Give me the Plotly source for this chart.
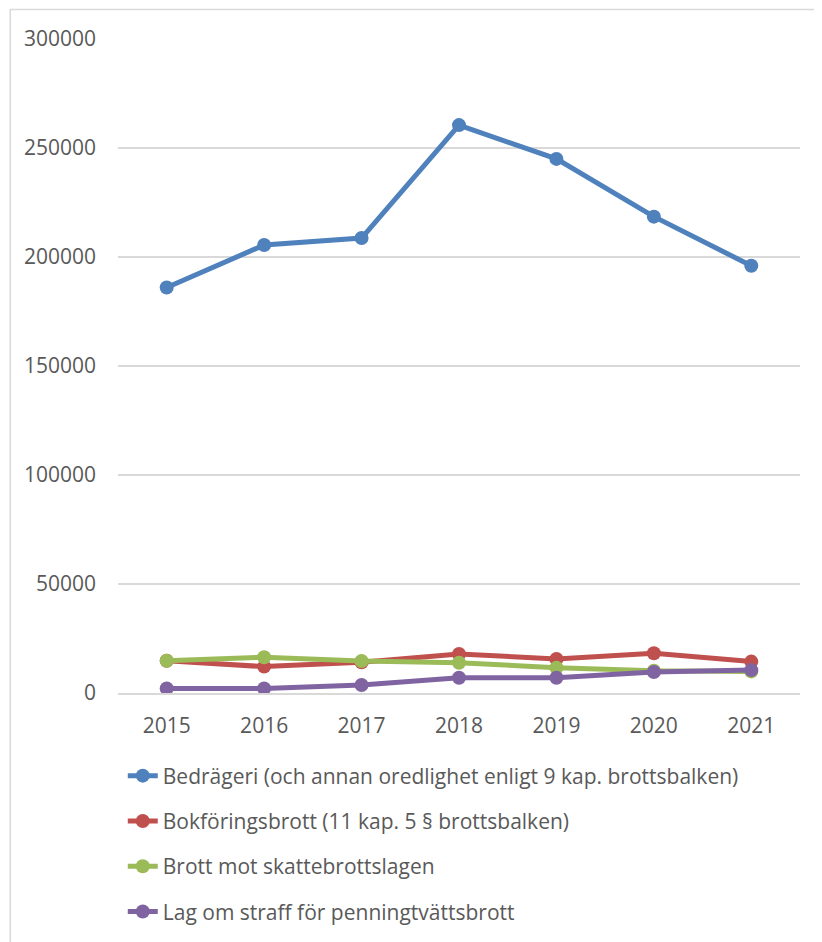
import plotly.graph_objects as go

years = ["2015", "2016", "2017", "2018", "2019", "2020", "2021"]

bedrageri = [186000, 205500, 208700, 260500, 245000, 218500, 196000]
bokforing = [14800, 12100, 14100, 17900, 15600, 18200, 14400]
skattebrott = [14800, 16400, 14700, 13900, 11600, 10200, 9900]
penningtvatt = [2100, 2100, 3700, 7000, 7000, 9600, 10500]

series_names = [
    "Bedrägeri (och annan oredlighet enligt 9 kap. brottsbalken)",
    "Bokföringsbrott (11 kap. 5 § brottsbalken)",
    "Brott mot skattebrottslagen",
    "Lag om straff för penningtvättsbrott",
]
series_colors = ["#4F81BD", "#C0504D", "#9BBB59", "#8064A2"]

TEXT = "#595959"
GRID = "#D9D9D9"
FONT = "Open Sans"

fig = go.Figure()
for i, (name, values, color) in enumerate(
    zip(series_names, [bedrageri, bokforing, skattebrott, penningtvatt], series_colors)
):
    fig.add_trace(
        go.Scatter(
            x=years,
            y=values,
            name=name,
            mode="lines+markers",
            line=dict(color=color, width=5),
            marker=dict(color=color, size=14),
            legendgroup=f"g{i}",
        )
    )

# page body adds an 8px margin, so the figure is offset by that much;
# extra height at the bottom keeps the legend from pushing the margin
fig.update_layout(
    width=806,
    height=950,
    margin=dict(l=110, r=14, t=31, b=265),
    paper_bgcolor="white",
    plot_bgcolor="white",
    font=dict(family=FONT, size=21, color=TEXT),
    showlegend=True,
    legend=dict(
        x=0.007,
        y=-0.0956,
        xanchor="left",
        yanchor="top",
        traceorder="grouped",
        tracegroupgap=15,
        font=dict(family=FONT, size=21, color=TEXT),
        bgcolor="rgba(0,0,0,0)",
    ),
    shapes=[
        dict(
            type="rect",
            xref="paper",
            yref="paper",
            x0=-0.158,
            x1=1.05,
            y0=-0.5,
            y1=1.045,
            line=dict(color=GRID, width=1.5),
            layer="below",
        )
    ],
)

fig.update_xaxes(
    type="category",
    range=[-0.5, 6.5],
    showgrid=False,
    showline=True,
    linecolor=GRID,
    linewidth=1.5,
    ticks="",
    ticklabelstandoff=13,
    tickfont=dict(family=FONT, size=21, color=TEXT),
)
fig.update_yaxes(
    range=[0, 300000],
    dtick=50000,
    tickformat="d",
    showgrid=True,
    gridcolor=GRID,
    gridwidth=1.5,
    zeroline=False,
    showline=False,
    ticks="",
    ticklabelstandoff=21,
    tickfont=dict(family=FONT, size=21, color=TEXT),
)

fig.write_html("out.html")
